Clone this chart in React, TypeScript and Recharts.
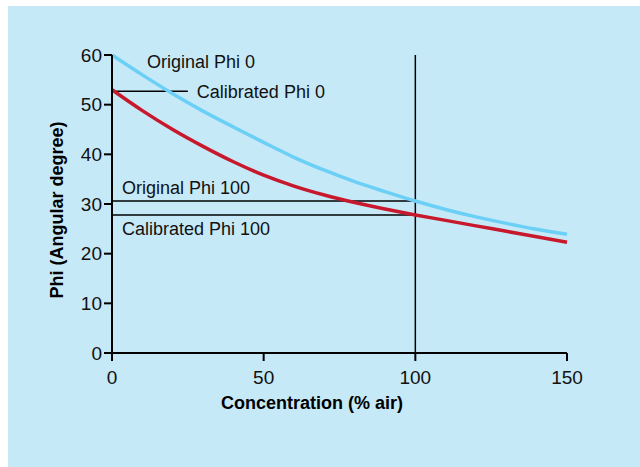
import React from "react";
import {
  LineChart,
  Line,
  XAxis,
  YAxis,
  ReferenceLine,
  ReferenceDot,
} from "recharts";

// concentration (% air)
const concentration = [0, 10, 20, 30, 40, 50, 60, 70, 80, 90, 100, 110, 120, 130, 140, 150];
// phi for the original and calibrated curves (angular degree)
const originalPhi = [60, 56.0, 52.2, 48.7, 45.5, 42.4, 39.4, 36.8, 34.5, 32.5, 30.6, 28.9, 27.4, 26.1, 24.9, 23.9];
const calibratedPhi = [53, 48.8, 45.0, 41.6, 38.5, 35.8, 33.6, 31.8, 30.3, 29.0, 27.8, 26.7, 25.6, 24.5, 23.4, 22.3];

const xTicks = [0, 50, 100, 150];
const yTicks = [0, 10, 20, 30, 40, 50, 60];

const phi0Original = 60;
const phi0Calibrated = 52.7;
const phi0CalibratedEnd = 25;
const phi100Original = 30.6;
const phi100Calibrated = 27.8;
const markerConcentration = 100;

const data = concentration.map((c, i) => ({
  c,
  original: originalPhi[i],
  calibrated: calibratedPhi[i],
}));

const FONT = "'Liberation Sans', Arial, sans-serif";
const BLUE = "#6ccff6";
const RED = "#c8182c";
const BG = "#c6e9f8";

// small helper: text placed relative to the label's viewBox
const note = (text: string, dx: number, dy: number, fromRight = false) => (props: any) => {
  const vb = props.viewBox || {};
  const x = (vb.x || 0) + (fromRight ? vb.width || 0 : 0) + dx;
  const y = (vb.y || 0) + dy;
  return (
    <text x={x} y={y} fill="#111" fontSize={18} fontFamily={FONT}>
      {text}
    </text>
  );
};

const XTick = (props: any) => (
  <text
    x={props.x}
    y={props.y}
    dy={13.5}
    textAnchor="middle"
    fill="#111"
    fontSize={19}
    fontFamily={FONT}
  >
    {props.payload.value}
  </text>
);

const YTick = (props: any) => (
  <text
    x={props.x}
    y={props.y}
    dy={6.5}
    textAnchor="end"
    fill="#111"
    fontSize={19}
    fontFamily={FONT}
  >
    {props.payload.value}
  </text>
);

const xTitle = (props: any) => {
  const vb = props.viewBox || {};
  return (
    <text
      x={vb.x + 200}
      y={vb.y + 56}
      textAnchor="middle"
      fill="#000"
      fontSize={18}
      fontWeight="bold"
      fontFamily={FONT}
    >
      Concentration (% air)
    </text>
  );
};

const yTitle = (props: any) => {
  const vb = props.viewBox || {};
  const x = vb.x + 55;
  const y = vb.y + 155;
  return (
    <text
      x={x}
      y={y}
      transform={`rotate(-90 ${x} ${y})`}
      textAnchor="middle"
      fill="#000"
      fontSize={18}
      fontWeight="bold"
      fontFamily={FONT}
    >
      Phi (Angular degree)
    </text>
  );
};

export default function App() {
  return (
    <div style={{ position: "fixed", inset: 0, background: "#fff" }}>
      <div
        style={{
          position: "absolute",
          left: 8,
          top: 6,
          width: 632,
          height: 461,
          background: BG,
        }}
      >
        <LineChart
          width={632}
          height={461}
          data={data}
          margin={{ top: 49, right: 73, left: 0, bottom: 54 }}
        >
          <XAxis
            dataKey="c"
            type="number"
            domain={[0, 150]}
            ticks={xTicks}
            height={60}
            stroke="#000"
            strokeWidth={2}
            tickSize={8}
            tickMargin={9}
            tick={(p: any) => <XTick {...p} />}
            label={{ content: xTitle }}
          />
          <YAxis
            type="number"
            domain={[0, 60]}
            ticks={yTicks}
            width={104}
            stroke="#000"
            strokeWidth={2}
            tickSize={8}
            tickMargin={2}
            tick={(p: any) => <YTick {...p} />}
            label={{ content: yTitle }}
          />
          <ReferenceLine x={markerConcentration} stroke="#000" strokeWidth={1.5} />
          <ReferenceLine
            segment={[
              { x: 0, y: phi100Original },
              { x: markerConcentration, y: phi100Original },
            ]}
            stroke="#000"
            strokeWidth={1.5}
            label={{ content: note("Original Phi 100", 10, -7) }}
          />
          <ReferenceLine
            segment={[
              { x: 0, y: phi100Calibrated },
              { x: markerConcentration, y: phi100Calibrated },
            ]}
            stroke="#000"
            strokeWidth={1.5}
            label={{ content: note("Calibrated Phi 100", 10, 20) }}
          />
          <ReferenceLine
            segment={[
              { x: 0, y: phi0Calibrated },
              { x: phi0CalibratedEnd, y: phi0Calibrated },
            ]}
            stroke="#000"
            strokeWidth={1.5}
            label={{ content: note("Calibrated Phi 0", 9, 7, true) }}
          />
          <ReferenceDot
            x={0}
            y={phi0Original}
            r={0}
            fill="none"
            stroke="none"
            label={{ content: note("Original Phi 0", 35, 13) }}
          />
          <Line
            dataKey="original"
            type="monotone"
            stroke={BLUE}
            strokeWidth={3.5}
            dot={false}
            isAnimationActive={false}
          />
          <Line
            dataKey="calibrated"
            type="monotone"
            stroke={RED}
            strokeWidth={3.5}
            dot={false}
            isAnimationActive={false}
          />
        </LineChart>
      </div>
    </div>
  );
}
